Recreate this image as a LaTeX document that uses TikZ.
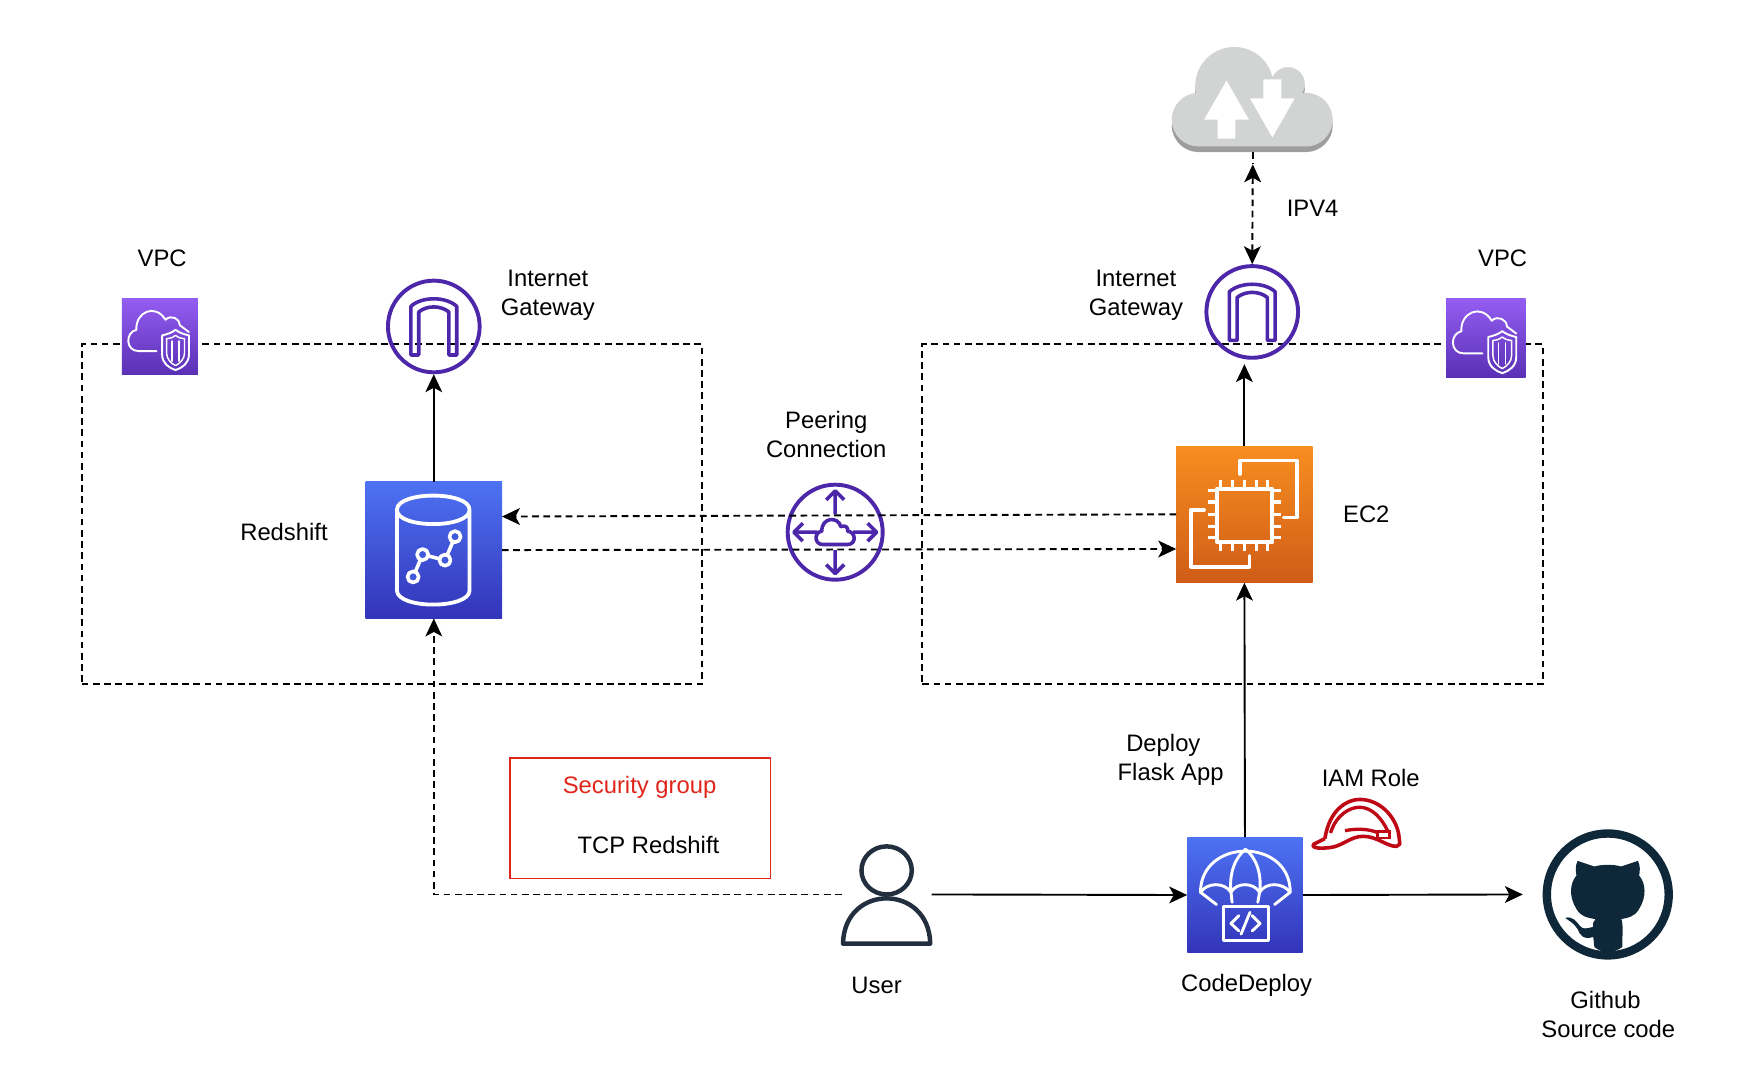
\documentclass[tikz,border=0pt]{standalone}
\usepackage{fontspec}
\setmainfont{Liberation Sans}
\usetikzlibrary{arrows.meta}
\usetikzlibrary{calc}

\definecolor{vpctop}{HTML}{945DF2}
\definecolor{vpcbot}{HTML}{5A30B5}
\definecolor{blutop}{HTML}{4D72F3}
\definecolor{blubot}{HTML}{3334B9}
\definecolor{orgtop}{HTML}{F78E20}
\definecolor{orgbot}{HTML}{D05C17}
\definecolor{netpurple}{HTML}{4D27AA}
\definecolor{userdark}{HTML}{232F3E}
\definecolor{gitdark}{HTML}{0F2839}
\definecolor{helmetred}{HTML}{BF0816}
\definecolor{secred}{HTML}{E0251B}
\definecolor{cloudgray}{HTML}{D2D3D3}
\definecolor{cloudshade}{HTML}{9D9D9D}

\tikzset{
  lbl/.style={inner sep=0pt,align=center,font=\fontsize{21.3}{26}\selectfont},
  iconbox/.style={inner sep=0pt,draw=none,minimum size=#1},
  vpcbox/.style={draw,dash pattern=on 6pt off 4pt,line width=1.7pt,inner sep=0pt,minimum width=555pt,minimum height=304pt},
  tip/.style={-{Stealth[length=16pt,width=15pt,inset=4pt]},line width=1.7pt},
  dashtip/.style={tip,dash pattern=on 6pt off 4pt},
  glyph/.style={white,line width=1.7pt,line join=round,line cap=round},
  netglyph/.style={netpurple,line width=3.2pt,line join=round},
  vpcglyph/.pic={
    \draw[glyph] (31,47) -- (15,47) .. controls (3,47) and (3,30) .. (13,28)
      .. controls (12,12) and (30,4) .. (39,19) .. controls (44,14) and (52,18) .. (52,24) -- (60,30);
    \draw[glyph] (48,28) .. controls (52,31) and (56,32) .. (60,33) -- (60,50) .. controls (60,58) and (54,62) .. (48,64)
      .. controls (42,62) and (36,58) .. (36,50) -- (36,33) .. controls (40,32) and (44,31) .. (48,28) -- cycle;
    \draw[glyph,line width=1.3pt] (48,33) .. controls (51,35) and (53,36) .. (56,36) -- (56,49) .. controls (56,54) and (52,58) .. (48,60)
      .. controls (44,58) and (40,54) .. (40,49) -- (40,36) .. controls (43,36) and (45,35) .. (48,33) -- cycle;
    \draw[glyph,line width=1.3pt] (45,38) -- (45,56) (51,38) -- (51,56);
  },
  igwglyph/.pic={
    \draw[netglyph] (-20.5,25.5) -- (-20.5,-18) .. controls (-11,-27) and (11,-27) .. (20.5,-18) -- (20.5,25.5) -- (13.5,25.5) -- (13.5,-13)
      .. controls (6,-19) and (-6,-19) .. (-13.5,-13) -- (-13.5,25.5) -- cycle;
  }
}

\begin{document}
\begin{tikzpicture}[x=1pt,y=-1pt]

  \useasboundingbox (0,0) rectangle (1567,964.2);

  % dashed vpc boxes
  \node[vpcbox] (vpcleft) at (350.5,460) {};
  \node[vpcbox] (vpcright) at (1102.5,460) {};

  % aws icons
  \node[iconbox=68pt,top color=vpctop,bottom color=vpcbot] (vpciconl) at (143,301) {};
  \node[iconbox=71pt,top color=vpctop,bottom color=vpcbot] (vpciconr) at (1329,302.5) {};
  \node[iconbox=122pt,top color=blutop,bottom color=blubot] (redshift) at (388,492) {};
  \node[iconbox=122pt,top color=orgtop,bottom color=orgbot] (ec2) at (1113,460) {};
  \node[iconbox=103pt,top color=blutop,bottom color=blubot] (deploy) at (1113.5,800.5) {};
  \node[circle,draw=netpurple,line width=3.5pt,inner sep=0pt,minimum size=82pt] (igwl) at (388,292) {};
  \node[circle,draw=netpurple,line width=3.5pt,inner sep=0pt,minimum size=82pt] (igwr) at (1120,279) {};
  \node[circle,draw=netpurple,line width=3.5pt,inner sep=0pt,minimum size=85pt] (peer) at (747,476) {};
  \node[circle,draw=gitdark,line width=7.5pt,inner sep=0pt,minimum size=109pt] (github) at (1438,800) {};
  \node[inner sep=0pt,minimum width=80pt,minimum height=88pt] (user) at (793,800) {};
  \node[inner sep=0pt,minimum width=143pt,minimum height=94pt] (internet) at (1120.5,89) {};

  % glyphs of the icons
  \pic at (109,267) {vpcglyph};
  \pic[scale=1.044] at (1293.5,267) {vpcglyph};
  \pic at (388,292) {igwglyph};
  \pic at (1120,279) {igwglyph};

  % redshift glyph
  \begin{scope}[shift={(327,431)}]
    \draw[glyph,line width=3.4pt] (28,25) .. controls (28,8) and (93,8) .. (93,25) .. controls (93,42) and (28,42) .. (28,25) -- (28,97)
      .. controls (28,114) and (93,114) .. (93,97) -- (93,25);
    \draw[glyph,line width=3.2pt] (42.5,85) -- (51,65) -- (71,70) -- (80,49);
    \foreach \cx/\cy in {42.5/85,51/65,71/70,80/49}
      \draw[glyph,line width=3.2pt,fill=blutop!60!blubot] (\cx,\cy) circle (5pt);
  \end{scope}

  % ec2 glyph
  \begin{scope}[shift={(1052,399)}]
    \draw[glyph,line width=3.2pt] (57,25) -- (57,13) -- (108,13) -- (108,64) -- (96,64);
    \draw[glyph,line width=3.2pt] (25,57) -- (13,57) -- (13,108) -- (65.5,108) -- (65.5,98);
    \draw[glyph,line width=3.6pt] (36.6,38) rectangle (86,86);
    \foreach \p in {40,50,61,72,82} {
      \draw[glyph,line width=2.8pt,line cap=butt] (\p,38) -- (\p,30);
      \draw[glyph,line width=2.8pt,line cap=butt] (\p,86) -- (\p,94);
      \draw[glyph,line width=2.8pt,line cap=butt] (36.6,\p) -- (28.6,\p);
      \draw[glyph,line width=2.8pt,line cap=butt] (86,\p) -- (94,\p);
    }
  \end{scope}

  % peering glyph
  \begin{scope}[shift={(747,476)}]
    \foreach \r in {0,90,180,270}
      \draw[netglyph,rotate=\r] (0,-16) -- (0,-37) (-8,-29) -- (0,-37) -- (8,-29);
    \draw[netglyph,fill=white] (-6,11) -- (-11,11) .. controls (-19,11) and (-19,0) .. (-12,-1)
      .. controls (-12,-14) and (3,-14) .. (5,-5) .. controls (10,-7) and (12,-3) .. (11,-1)
      .. controls (19,0) and (19,11) .. (11,11) -- cycle;
  \end{scope}

  % deploy glyph
  \begin{scope}[shift={(1062,749)}]
    \draw[glyph,line width=2.6pt] (11.7,49) .. controls (12,0) and (92,0) .. (92,49);
    \draw[glyph,line width=2.6pt] (11.7,49) .. controls (18,40) and (33,40) .. (39,49)
      .. controls (44,40) and (59,40) .. (64.6,49) .. controls (70,40) and (85,40) .. (92,49);
    \draw[glyph,line width=2.6pt] (40,58) -- (39,49) .. controls (37,30) and (44,17) .. (52,10.5)
      .. controls (60,17) and (67,30) .. (64.6,49) -- (63,58);
    \draw[glyph,line width=2.6pt] (11.7,49) -- (26,60) (92,49) -- (78,60);
    \draw[glyph,line width=2.6pt] (32,62) rectangle (72.6,92);
    \draw[glyph,line width=2.6pt] (46,70) -- (39,77) -- (46,83.6) (58,70) -- (65,77) -- (58,83.6) (56,67) -- (48,86.5);
  \end{scope}

  % user glyph
  \draw[userdark,line width=4pt] (793,778.5) ellipse (22.5pt and 21.5pt);
  \draw[userdark,line width=4pt,line join=round] (754,844) .. controls (755,790) and (831,790) .. (832,844) -- cycle;

  % github cat
  \begin{scope}[shift={(1438,800)}]
    \fill[gitdark] (-12,-25) .. controls (-5,-27) and (5,-27) .. (12,-25) -- (27,-30) .. controls (29,-26) and (29,-21) .. (28,-17)
      .. controls (34,-10) and (35,2) .. (28,13) .. controls (24,20) and (18,21) .. (12,22)
      .. controls (14,25) and (13,36) .. (13,47) .. controls (5,53) and (-5,53) .. (-12,47) -- (-13,38)
      .. controls (-22,41) and (-25,36) .. (-27,31) .. controls (-30,26) and (-34,24) .. (-38,21)
      .. controls (-32,19) and (-28,24) .. (-25,28) .. controls (-22,32) and (-18,30) .. (-13,29)
      .. controls (-14,27) and (-13,24) .. (-11,22) .. controls (-18,21) and (-24,20) .. (-28,13)
      .. controls (-35,2) and (-34,-10) .. (-28,-17) .. controls (-29,-21) and (-29,-26) .. (-27,-30) -- cycle;
  \end{scope}

  % internet cloud
  \foreach \dy/\col in {5/cloudshade,0/cloudgray} {
    \fill[\col,yshift=-\dy pt] (1072,107) circle (24pt) (1104,77) circle (35pt) (1152,75) circle (15pt) (1168,107) circle (24pt)
      (1072,83) rectangle (1168,131);
  }
  \fill[white] (1097,72) -- (1117,107) -- (1105,107) -- (1105,124) -- (1089,124) -- (1089,107) -- (1077,107) -- cycle;
  \fill[white] (1138,123) -- (1118,88) -- (1130,88) -- (1130,71) -- (1146,71) -- (1146,88) -- (1158,88) -- cycle;

  % iam helmet
  \draw[helmetred,line width=3.2pt,line join=round] (1185,750) .. controls (1189,724) and (1205,715) .. (1216,715)
    .. controls (1234,715) and (1248,730) .. (1251,746) -- (1252,755) -- (1249,757)
    .. controls (1240,757) and (1232,748) .. (1219,748) .. controls (1208,748) and (1200,757) .. (1190,758)
    .. controls (1182,759) and (1172,759) .. (1175,755) -- (1185,750);
  \draw[helmetred,line width=3pt] (1190,745) .. controls (1195,729) and (1207,722) .. (1216,722) .. controls (1227,722) and (1236,732) .. (1241,743);
  \draw[helmetred,line width=3pt] (1203,743) .. controls (1212,741) and (1224,741) .. (1233,745);
  \draw[helmetred,line width=2.4pt] (1232,743.5) rectangle (1243,749.5);

  % connectors
  \coordinate (redshiftin) at (449,462);
  \coordinate (ec2out) at (1052,460);
  \coordinate (redshiftout) at (449,492);
  \coordinate (ec2in) at (1052,491);
  \coordinate (ipvtip) at (1120.5,147);
  \coordinate (gitend) at (1362,800);
  \draw[tip] (redshift.north) -- (igwl.south);
  \draw[tip,shorten >=4pt] (ec2.north) -- (ec2.north |- igwr.south);
  \draw[tip] (deploy.north) -- (ec2.south);
  \draw[dashtip] (ec2out) -- (redshiftin);
  \draw[dashtip] (redshiftout) -- (ec2in);
  \draw[dashtip,{Stealth[length=16pt,width=15pt,inset=4pt]}-{Stealth[length=16pt,width=15pt,inset=4pt]}] (ipvtip) -- (igwr.north);
  \draw[line width=1.7pt,dash pattern=on 6pt off 4pt] (internet.south) -- (ipvtip);
  \draw[dashtip] (user.west) -| (redshift.south);
  \draw[tip] (user.east) -- (deploy.west);
  \draw[tip] (deploy.east) -- (gitend);

  % security group box
  \node[draw=secred,line width=1.2pt,inner sep=0pt,minimum width=233pt,minimum height=108pt] (secbox) at (572.5,732) {};

  % labels
  \node[lbl] (vpclabl) at (145,231) {VPC};
  \node[lbl] (vpclabr) at (1344,231) {VPC};
  \node[lbl] (igwlabl) at (490,264) {Internet\\Gateway};
  \node[lbl] (igwlabr) at (1016,264) {Internet\\Gateway};
  \node[lbl] (ipvlab) at (1174,186) {IPV4};
  \node[lbl] (peerlab) at (739,388.5) {Peering\\Connection};
  \node[lbl] (redlab) at (254,476) {Redshift};
  \node[lbl] (ec2lab) at (1222,460) {EC2};
  \node[lbl] (flasklab) at (1047,680) {Deploy\hspace*{13pt}\\Flask App};
  \node[lbl] (iamlab) at (1226,696) {IAM Role};
  \node[lbl,text=secred] (seclab) at (572,704) {Security group};
  \node[lbl] (tcplab) at (580,755.5) {TCP Redshift};
  \node[lbl] (userlab) at (784,881) {User};
  \node[lbl] (deploylab) at (1115,881) {CodeDeploy};
  \node[lbl] (gitlab) at (1438.5,907) {Github\hspace*{5pt}\\Source code};

\end{tikzpicture}
\end{document}
